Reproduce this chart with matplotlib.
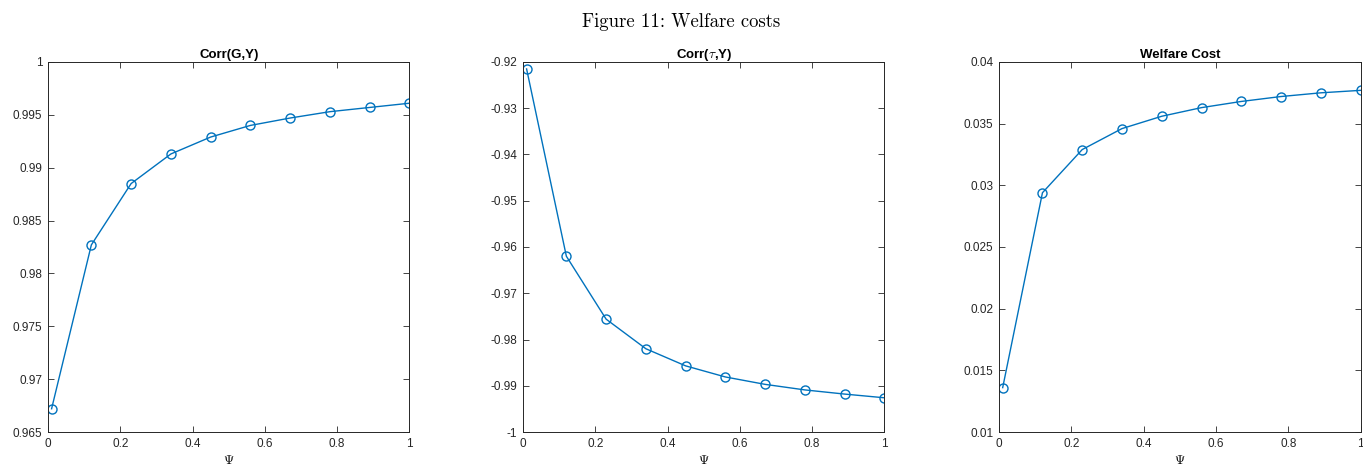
import numpy as np
import matplotlib
matplotlib.use("Agg")
import matplotlib.pyplot as plt
from matplotlib.ticker import FuncFormatter, MultipleLocator

# Psi grid and simulated moments
psi = [0.01, 0.12, 0.23, 0.34, 0.45, 0.56, 0.67, 0.78, 0.89, 1.00]
corr_gy = [0.9672, 0.9827, 0.9885, 0.9913, 0.9929, 0.9940, 0.9947, 0.9953, 0.9957, 0.9961]
corr_tauy = [-0.9215, -0.9620, -0.9756, -0.9820, -0.9857, -0.9881, -0.9897, -0.9909, -0.9918, -0.9926]
welfare_cost = [0.0136, 0.0294, 0.0329, 0.0346, 0.0356, 0.0363, 0.0368, 0.0372, 0.0375, 0.0377]

titles = ["Corr(G,Y)", r"Corr($\tau$,Y)", "Welfare Cost"]
series = [corr_gy, corr_tauy, welfare_cost]
ylims = [(0.965, 1.0), (-1.0, -0.92), (0.01, 0.04)]
ysteps = [0.005, 0.01, 0.005]
lefts = [0.0352, 0.3837, 0.7330]

blue = "#0072BD"
axcol = "#262626"

plt.rcParams["font.family"] = ["Liberation Sans", "DejaVu Sans"]
plt.rcParams["mathtext.fontset"] = "cm"

fig = plt.figure(figsize=(13.63, 4.75), dpi=100)
fig.text(0.5, 0.953, "Figure 11: Welfare costs", ha="center", va="center",
         fontsize=13.5, family="cmr10")

fmt = FuncFormatter(lambda v, p: "%g" % round(v, 6))

for left, title, y, lim, step in zip(lefts, titles, series, ylims, ysteps):
    ax = fig.add_axes([left, 0.0905, 0.2652, 0.779])
    ax.plot(psi, y, "-o", color=blue, lw=1.0, ms=6.5, mfc="none", mew=1.0)
    ax.set_xlim(0, 1)
    ax.set_ylim(*lim)
    ax.xaxis.set_major_locator(MultipleLocator(0.2))
    ax.yaxis.set_major_locator(MultipleLocator(step))
    ax.xaxis.set_major_formatter(fmt)
    ax.yaxis.set_major_formatter(fmt)
    ax.tick_params(direction="in", top=True, right=True, length=4, width=0.6,
                   labelsize=8.5, colors=axcol, labelcolor=axcol, pad=4)
    for s in ax.spines.values():
        s.set_color(axcol)
        s.set_linewidth(0.7)
    ax.set_title(title, fontsize=9.5, fontweight="bold", pad=3)
    ax.set_xlabel(r"$\Psi$", fontsize=9.5, labelpad=3)

fig.savefig("out.png", dpi=100)
